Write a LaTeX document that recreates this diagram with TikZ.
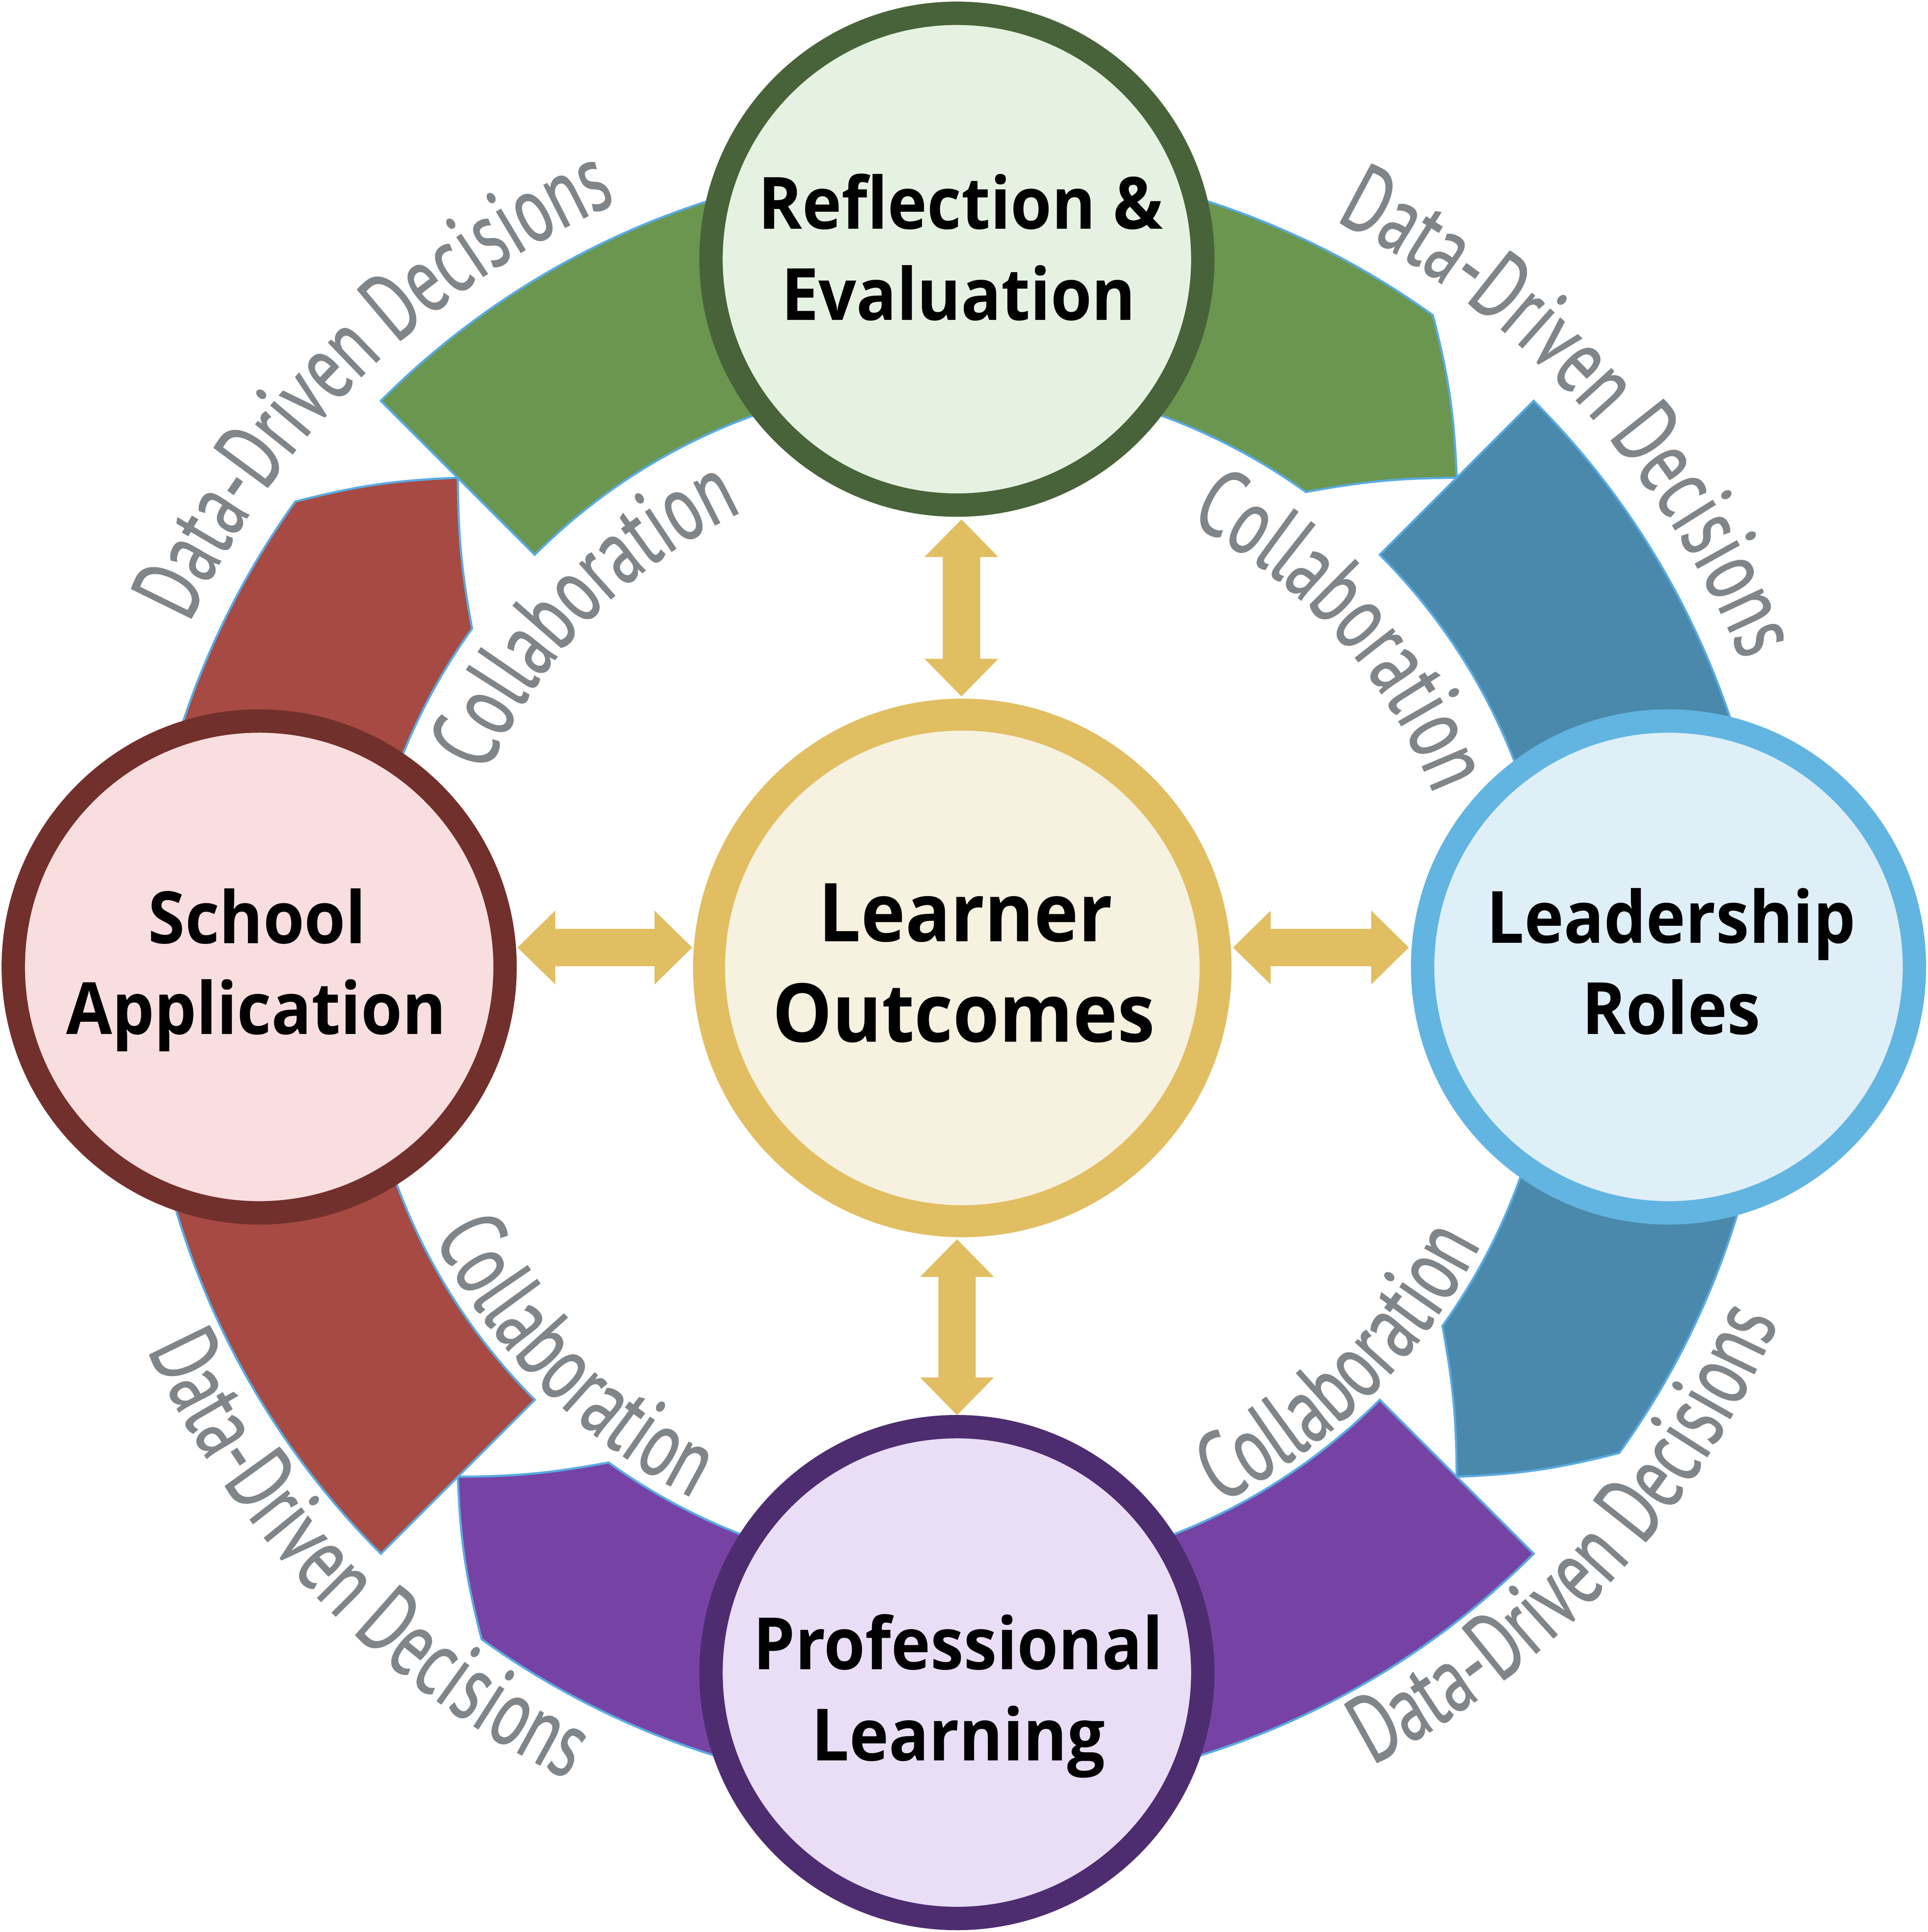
\documentclass[tikz,border=0pt]{standalone}
\usepackage{fontspec}
\setmainfont{PT Sans}
\newfontfamily\labelfont[FakeStretch=0.924]{Open Sans}
\newfontfamily\grayfont[FakeStretch=0.68,FakeBold=0.8]{PT Sans}
\usetikzlibrary{calc,decorations.text}
\definecolor{bandgreen}{HTML}{6A9650}
\definecolor{bandblue}{HTML}{4A89AC}
\definecolor{bandpurple}{HTML}{7643A5}
\definecolor{bandred}{HTML}{A64A43}
\definecolor{edgeblue}{HTML}{5AAAE1}
\definecolor{topF}{HTML}{E6F2E1}\definecolor{topD}{HTML}{486339}
\definecolor{rightF}{HTML}{DFEFF8}\definecolor{rightD}{HTML}{63B5E1}
\definecolor{botF}{HTML}{EADEF6}\definecolor{botD}{HTML}{4D2D6F}
\definecolor{leftF}{HTML}{F9DEDF}\definecolor{leftD}{HTML}{72302C}
\definecolor{hubF}{HTML}{F7F1E0}\definecolor{hubD}{HTML}{E1BE62}
\definecolor{arrowgold}{HTML}{E1BE62}
\definecolor{labelgray}{HTML}{808589}
\newcommand{\graylab}{\grayfont\fontsize{22}{26}\selectfont}
\newcommand{\dblarr}[2]{%
  \fill[arrowgold] (#1)
   -- ($(#1)!0.306cm!(#2)!0.30cm!90:(#2)$)
   -- ($(#1)!0.306cm!(#2)!0.152cm!90:(#2)$)
   -- ($(#2)!0.306cm!(#1)!0.152cm!-90:(#1)$)
   -- ($(#2)!0.306cm!(#1)!0.30cm!-90:(#1)$)
   -- (#2)
   -- ($(#2)!0.306cm!(#1)!0.30cm!90:(#1)$)
   -- ($(#2)!0.306cm!(#1)!0.152cm!90:(#1)$)
   -- ($(#1)!0.306cm!(#2)!0.152cm!-90:(#2)$)
   -- ($(#1)!0.306cm!(#2)!0.30cm!-90:(#2)$)
   -- cycle;}
\tikzset{
  sat/.style={circle, minimum size=4.0cm, inner sep=0pt, outer sep=0pt, line width=0.19cm},
  hub/.style={circle, minimum size=4.12cm, inner sep=0pt, outer sep=0pt, line width=0.26cm},
  lbl/.style={font=\labelfont\bfseries\fontsize{16.7}{20}\selectfont, inner sep=0pt, anchor=base, text=black},
  hublbl/.style={lbl, font=\labelfont\bfseries\fontsize{18.8}{22}\selectfont},
  band/.style={draw=edgeblue, line width=0.5pt, line join=miter},
  grayarc/.style={decorate, decoration={text along path, text align=center,
     text color=labelgray, text={|\graylab|#1}}}
}
\begin{document}
\begin{tikzpicture}
\useasboundingbox (0,0) rectangle (15.68,-15.713);
\coordinate (B) at (7.786,-7.948);
\begin{scope}[shift={(B)}]
  \foreach \s/\c in {135/bandgreen, 45/bandblue, -45/bandpurple, -135/bandred}{
    \filldraw[band, fill=\c]
      ({\s}:6.63) arc[start angle={\s}, end angle={\s-80.7}, radius=6.63]
      to[bend left=6] ({\s-90}:5.745)
      to[bend right=5] ({\s-80.7}:4.86)
      arc[start angle={\s-80.7}, end angle={\s}, radius=4.86] -- cycle;
  }
  % outer labels
  \path[grayarc={Data-Driven Decisions}] (174.5:6.88) arc[start angle=174.5, end angle=94.5, radius=6.88];
  \path[grayarc={Data-Driven Decisions}] (82.7:6.88) arc[start angle=82.7, end angle=2.7, radius=6.88];
  \path[grayarc={Data-Driven Decisions}] (-175.6:7.25) arc[start angle=-175.6, end angle=-95.6, radius=7.25];
  \path[grayarc={Data-Driven Decisions}] (-82.5:7.24) arc[start angle=-82.5, end angle=-2.5, radius=7.24];
  % inner labels
  \path[grayarc={Collaboration}] (175.7:4.17) arc[start angle=175.7, end angle=95.7, radius=4.17];
  \path[grayarc={Collaboration}] (82:4.15) arc[start angle=82, end angle=2, radius=4.15];
  \path[grayarc={Collaboration}] (-175.3:4.75) arc[start angle=-175.3, end angle=-95.3, radius=4.75];
  \path[grayarc={Collaboration}] (-85.3:4.78) arc[start angle=-85.3, end angle=-5.3, radius=4.78];
\end{scope}

% circles
\node[sat, draw=topD, fill=topF] (reflect) at (7.783,-2.108) {};
\node[sat, draw=rightD, fill=rightF] (lead) at (13.571,-7.864) {};
\node[sat, draw=botD, fill=botF] (prof) at (7.783,-13.603) {};
\node[sat, draw=leftD, fill=leftF] (school) at (2.108,-7.864) {};
\node[hub, draw=hubD, fill=hubF] (hub) at (7.827,-7.872) {};

% labels
\node[lbl] (t1) at (7.813,-1.861) {Reflection \&};
\node[lbl] (t2) at (7.796,-2.602) {Evaluation};
\node[lbl] (t3) at (13.592,-7.669) {Leadership};
\node[lbl] (t4) at (13.593,-8.410) {Roles};
\node[lbl] (t5) at (2.092,-7.671) {School};
\node[lbl] (t6) at (2.083,-8.410) {Application};
\node[lbl] (t7) at (7.793,-13.577) {Professional};
\node[lbl] (t8) at (7.794,-14.318) {Learning};
\node[hublbl] (t9) at (7.853,-7.656) {Learner};
\node[hublbl] (t10) at (7.839,-8.473) {Outcomes};

% double arrows
\coordinate (aTa) at (7.82,-4.224);  \coordinate (aTb) at (7.82,-5.664);
\coordinate (aBa) at (7.784,-10.079); \coordinate (aBb) at (7.784,-11.509);
\coordinate (aLa) at (4.21,-7.706);  \coordinate (aLb) at (5.63,-7.706);
\coordinate (aRa) at (10.029,-7.706); \coordinate (aRb) at (11.459,-7.706);
\dblarr{aTa}{aTb}
\dblarr{aBa}{aBb}
\dblarr{aLa}{aLb}
\dblarr{aRa}{aRb}
\end{tikzpicture}
\end{document}
